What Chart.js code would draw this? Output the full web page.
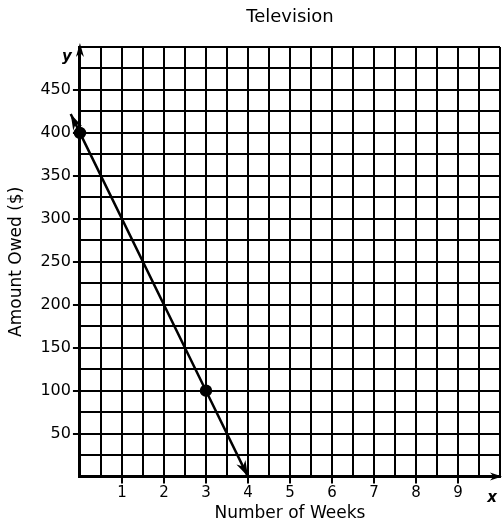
<!DOCTYPE html>
<html>
<head>
<meta charset="utf-8">
<script src="https://cdn.jsdelivr.net/npm/chart.js@4"></script>
<style>
  html, body { margin: 0; padding: 0; background: #fff; }
  #wrap { width: 504px; height: 527px; }
</style>
</head>
<body>
<div id="wrap"><canvas id="myChart" width="504" height="527"></canvas></div>
<script>
// ---- data ----
const weeks = [-0.22, 0, 3, 4];
const owed = [422, 400, 100, 0];
const dotIndex = [1, 2];          // the two plotted points
const xLabels = [1, 2, 3, 4, 5, 6, 7, 8, 9];
const yLabels = [50, 100, 150, 200, 250, 300, 350, 400, 450];

const FONT = '"DejaVu Sans", Verdana, sans-serif';

function arrowHead(c, x1, y1, x2, y2, len, wid) {
  const a = Math.atan2(y2 - y1, x2 - x1);
  c.beginPath();
  c.moveTo(x2, y2);
  c.lineTo(x2 - len * Math.cos(a) + wid * Math.sin(a), y2 - len * Math.sin(a) - wid * Math.cos(a));
  c.lineTo(x2 - len * 0.7 * Math.cos(a), y2 - len * 0.7 * Math.sin(a));
  c.lineTo(x2 - len * Math.cos(a) - wid * Math.sin(a), y2 - len * Math.sin(a) + wid * Math.cos(a));
  c.closePath();
  c.fill();
}

// arrows, axis letters and title
const extras = {
  id: 'extras',
  afterDraw(chart) {
    const c = chart.ctx;
    const xs = chart.scales.x, ys = chart.scales.y;
    const area = chart.chartArea;
    c.save();
    c.fillStyle = '#000';
    c.strokeStyle = '#000';

    // line arrowheads
    const p = weeks.map((w, i) => [xs.getPixelForValue(w), ys.getPixelForValue(owed[i])]);
    const n = p.length;
    arrowHead(c, p[1][0], p[1][1], p[0][0], p[0][1], 16, 5);
    arrowHead(c, p[n - 2][0], p[n - 2][1], p[n - 1][0], p[n - 1][1], 16, 5);

    // axis arrowheads
    arrowHead(c, area.left, area.top + 20, area.left, area.top - 4, 14, 4);
    arrowHead(c, area.right - 20, area.bottom, area.right + 2, area.bottom, 12, 4);

    // axis letters
    c.font = 'italic bold 15px ' + FONT;
    c.textAlign = 'center';
    c.textBaseline = 'middle';
    c.fillText('y', area.left - 13, area.top + 10);
    c.fillText('x', area.right - 8, area.bottom + 22);

    // title
    c.font = '18px ' + FONT;
    c.fillText('Television', (area.left + area.right) / 2, 17);
    c.restore();
  }
};

const ctx = document.getElementById('myChart');

new Chart(ctx, {
  type: 'scatter',
  data: {
    datasets: [{
      data: weeks.map((w, i) => ({ x: w, y: owed[i] })),
      showLine: true,
      borderColor: '#000',
      borderWidth: 2.5,
      backgroundColor: '#000',
      pointRadius: c => dotIndex.includes(c.dataIndex) ? 5 : 0,
      clip: false
    }]
  },
  options: {
    responsive: false,
    animation: false,
    layout: { padding: { top: 47, right: 4, left: 6, bottom: 0 } },
    plugins: {
      legend: { display: false },
      tooltip: { enabled: false }
    },
    scales: {
      x: {
        type: 'linear',
        min: 0,
        max: 10,
        border: { display: true, color: '#000', width: 3 },
        grid: {
          color: '#000',
          lineWidth: 2,
          tickLength: 7,
          tickColor: c => xLabels.includes(c.tick.value) ? '#000' : 'rgba(0,0,0,0)'
        },
        ticks: {
          stepSize: 0.5,
          autoSkip: false,
          maxRotation: 0,
          color: '#000',
          padding: 1,
          font: { family: FONT, size: 15 },
          callback: v => xLabels.includes(v) ? String(v) : ''
        },
        title: {
          display: true,
          text: 'Number of Weeks',
          color: '#000',
          font: { family: FONT, size: 17 },
          padding: { top: 0, bottom: 3 }
        }
      },
      y: {
        type: 'linear',
        min: 0,
        max: 500,
        border: { display: true, color: '#000', width: 3 },
        grid: {
          color: '#000',
          lineWidth: 2,
          tickLength: 7,
          tickColor: c => yLabels.includes(c.tick.value) ? '#000' : 'rgba(0,0,0,0)'
        },
        ticks: {
          stepSize: 25,
          autoSkip: false,
          color: '#000',
          padding: 2,
          font: { family: FONT, size: 16 },
          callback: v => yLabels.includes(v) ? String(v) : ''
        },
        title: {
          display: true,
          text: 'Amount Owed ($)',
          color: '#000',
          font: { family: FONT, size: 17 },
          padding: { top: 0, bottom: 12 }
        }
      }
    }
  },
  plugins: [extras]
});
</script>
</body>
</html>
